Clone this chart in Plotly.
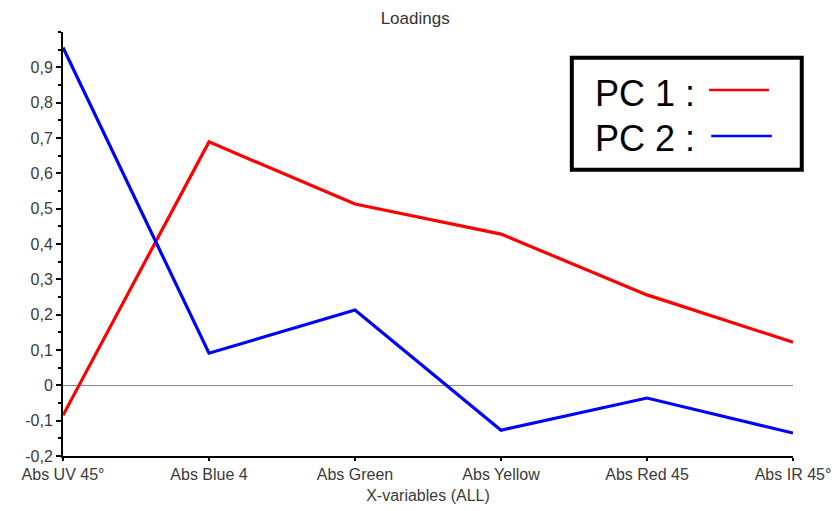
import plotly.graph_objects as go

categories = ["Abs UV 45°", "Abs Blue 4", "Abs Green", "Abs Yellow", "Abs Red 45", "Abs IR 45°"]
pc1 = [-0.085, 0.689, 0.513, 0.428, 0.256, 0.122]
pc2 = [0.956, 0.091, 0.213, -0.127, -0.036, -0.135]
y_tickvals = [-0.2, -0.1, 0.0, 0.1, 0.2, 0.3, 0.4, 0.5, 0.6, 0.7, 0.8, 0.9]
y_ticktext = ["-0,2", "-0,1", "0", "0,1", "0,2", "0,3", "0,4", "0,5", "0,6", "0,7", "0,8", "0,9"]

font_main = "Liberation Sans, Arial, sans-serif"
xs = list(range(len(categories)))

fig = go.Figure()
fig.add_trace(go.Scatter(x=xs, y=pc1, mode="lines", line=dict(color="#ff0000", width=3.2), name="PC 1"))
fig.add_trace(go.Scatter(x=xs, y=pc2, mode="lines", line=dict(color="#0000ff", width=3.2), name="PC 2"))

fig.update_layout(
    width=837, height=511,
    margin=dict(l=63, r=44, t=32, b=55),
    paper_bgcolor="white", plot_bgcolor="white",
    showlegend=False,
    title=dict(text="Loadings", x=0.496, xanchor="center", y=0.965, yanchor="middle",
               font=dict(family=font_main, size=17, color="#333333")),
    font=dict(family=font_main, size=16, color="#3a3a3a"),
)
fig.update_xaxes(
    range=[0, 5], tickvals=xs, ticktext=categories,
    showline=True, linecolor="black", linewidth=2,
    ticks="outside", ticklen=3, tickcolor="black", tickwidth=2,
    showgrid=False, zeroline=False, automargin=False,
    title=dict(text="X-variables (ALL)", standoff=8, font=dict(family=font_main, size=16, color="#3a3a3a")),
)
fig.update_yaxes(
    range=[-0.2, 1.0], tickvals=y_tickvals, ticktext=y_ticktext,
    showline=True, linecolor="black", linewidth=2,
    ticks="outside", ticklen=5, tickcolor="black", tickwidth=2,
    minor=dict(dtick=0.05, tick0=0, ticks="outside", ticklen=3, tickcolor="black", tickwidth=1.5),
    showgrid=False, zeroline=True, zerolinecolor="#888888", zerolinewidth=1, automargin=False,
)

# legend box
fig.add_shape(type="rect", xref="paper", yref="paper", x0=0.697, x1=1.012, y0=0.675, y1=0.939,
              line=dict(color="black", width=4), fillcolor="white", layer="above")
fig.add_annotation(xref="paper", yref="paper", x=0.726, y=0.856, xanchor="left", yanchor="middle",
                   text="PC 1 :", showarrow=False,
                   font=dict(family=font_main, size=36, color="black"))
fig.add_annotation(xref="paper", yref="paper", x=0.726, y=0.75, xanchor="left", yanchor="middle",
                   text="PC 2 :", showarrow=False,
                   font=dict(family=font_main, size=36, color="black"))
fig.add_shape(type="line", xref="paper", yref="paper", x0=0.885, x1=0.967, y0=0.863, y1=0.863,
              line=dict(color="#ff0000", width=2.5), layer="above")
fig.add_shape(type="line", xref="paper", yref="paper", x0=0.888, x1=0.971, y0=0.755, y1=0.755,
              line=dict(color="#0000ff", width=2.5), layer="above")

fig.write_html("out.html", config={"displayModeBar": False},
               post_script="document.body.style.margin='0';document.body.style.overflow='hidden';")
